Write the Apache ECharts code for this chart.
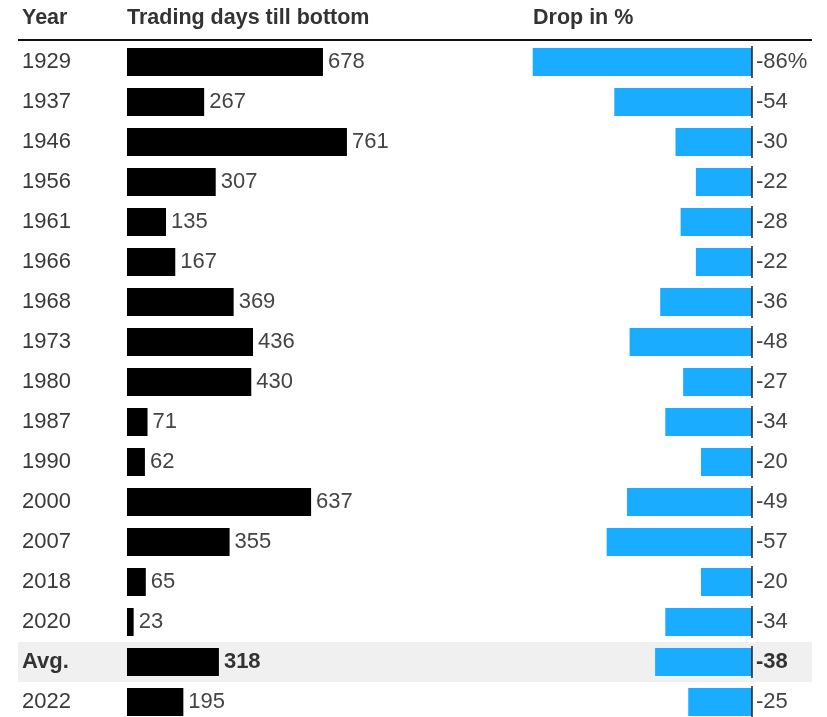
<!DOCTYPE html>
<html>
<head>
<meta charset="utf-8">
<script src="https://cdn.jsdelivr.net/npm/echarts@6/dist/echarts.min.js"></script>
<style>
html,body{margin:0;padding:0;background:#fff;}
#c{width:827px;height:717px;}
</style>
</head>
<body>
<div id="c"></div>
<script>
const years = ['1929','1937','1946','1956','1961','1966','1968','1973','1980','1987','1990','2000','2007','2018','2020','Avg.','2022'];
const tradingDays = [678,267,761,307,135,167,369,436,430,71,62,637,355,65,23,318,195];
const dropPct = [-86,-54,-30,-22,-28,-22,-36,-48,-27,-34,-20,-49,-57,-20,-34,-38,-25];
const avgLabel = 'Avg.';

const FONT = '"Liberation Sans", Arial, Helvetica, sans-serif';
const avgIdx = years.indexOf(avgLabel);
const FS = 22;

const chart = echarts.init(document.getElementById('c'));

const yearData = years.map(function (y) {
  return y === avgLabel ? { value: y, textStyle: { fontWeight: 'bold', color: '#333', align: 'left', fontSize: FS, fontFamily: FONT } } : y;
});

const option = {
  backgroundColor: '#ffffff',
  animation: false,
  textStyle: { fontFamily: FONT },
  graphic: [
    { type: 'text', left: 22, top: 7, style: { text: 'Year', font: 'bold 21.5px ' + FONT, fill: '#333' } },
    { type: 'text', left: 127, top: 7, style: { text: 'Trading days till bottom', font: 'bold 21.5px ' + FONT, fill: '#333' } },
    { type: 'text', left: 533, top: 7, style: { text: 'Drop in %', font: 'bold 21.5px ' + FONT, fill: '#333' } },
    { type: 'line', shape: { x1: 18, y1: 40, x2: 812, y2: 40 }, style: { stroke: '#111', lineWidth: 2 } }
  ],
  grid: [
    { left: 127, top: 42, width: 289, height: 680, outerBoundsMode: 'none', containLabel: false },
    { left: 497, top: 42, width: 255, height: 680, outerBoundsMode: 'none', containLabel: false }
  ],
  xAxis: [
    { gridIndex: 0, type: 'value', min: 0, max: 1000, show: false },
    { gridIndex: 1, type: 'value', min: -100, max: 0, show: false }
  ],
  yAxis: [
    {
      gridIndex: 0, type: 'category', data: yearData, inverse: true, z: 10,
      axisLine: { show: false }, axisTick: { show: false },
      axisLabel: { align: 'left', margin: 105, fontSize: FS, color: '#3a3a3a', fontFamily: FONT, interval: 0 }
    },
    {
      gridIndex: 1, type: 'category', data: years, inverse: true, show: false
    }
  ],
  series: [
    {
      type: 'custom', xAxisIndex: 0, yAxisIndex: 0, z: 0, silent: true, clip: false,
      data: [[0, avgIdx]],
      renderItem: function (params, api) {
        const p = api.coord([0, api.value(1)]);
        const h = api.size([0, 1])[1];
        return { type: 'rect', shape: { x: 18, y: p[1] - h / 2, width: 794, height: h }, style: { fill: '#f0f0f0' } };
      }
    },
    {
      type: 'bar', xAxisIndex: 0, yAxisIndex: 0, z: 2, barWidth: 28,
      data: tradingDays,
      itemStyle: { color: '#000' },
      label: {
        show: true, position: 'right', distance: 5, fontSize: FS, color: '#444', fontFamily: FONT,
        formatter: function (p) { return p.dataIndex === avgIdx ? '{b|' + p.value + '}' : String(p.value); },
        rich: { b: { fontWeight: 'bold', fontSize: FS, color: '#333', fontFamily: FONT } }
      }
    },
    {
      type: 'bar', xAxisIndex: 1, yAxisIndex: 1, z: 2, barWidth: 28,
      data: dropPct,
      itemStyle: { color: '#1aacff' },
      label: {
        show: true, position: 'right', distance: 4, fontSize: FS, color: '#444', fontFamily: FONT,
        formatter: function (p) {
          const t = p.dataIndex === 0 ? p.value + '%' : String(p.value);
          return p.dataIndex === avgIdx ? '{b|' + t + '}' : t;
        },
        rich: { b: { fontWeight: 'bold', fontSize: FS, color: '#333', fontFamily: FONT } }
      }
    },
    {
      type: 'custom', xAxisIndex: 1, yAxisIndex: 1, z: 3, silent: true, clip: false,
      data: years.map(function (y, i) { return [0, i]; }),
      renderItem: function (params, api) {
        const p = api.coord([0, api.value(1)]);
        return { type: 'line', shape: { x1: p[0], y1: p[1] - 16, x2: p[0], y2: p[1] + 16 }, style: { stroke: '#222', lineWidth: 1.5 } };
      }
    }
  ]
};
chart.setOption(option);
</script>
</body>
</html>
